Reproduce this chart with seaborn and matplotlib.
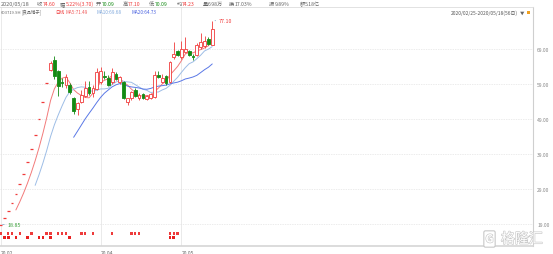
import numpy as np
import pandas as pd
import matplotlib
matplotlib.use("Agg")
import matplotlib.pyplot as plt
import matplotlib.patches as mpatches
import matplotlib.patheffects as pe
from matplotlib.transforms import blended_transform_factory, offset_copy
import seaborn as sns

# ---------------- data ----------------
limit_up_prices = [18.85, 20.74, 22.81, 25.09, 27.60, 30.36, 33.40, 36.74, 40.41,
                   44.45, 48.90, 53.79, 59.17]
open_rest = [63.10, 65.90, 62.60, 59.70, 58.60, 58.70, 54.90, 51.90, 54.00, 55.70,
             58.00, 56.50, 57.60, 59.50, 61.40, 60.60, 59.50, 61.90, 59.50, 59.50,
             53.80, 54.90, 57.40, 54.90, 56.10, 54.70, 54.90, 55.40, 61.50, 59.70,
             61.30, 59.70, 66.60, 68.30, 66.60, 68.20, 68.30, 67.00, 67.40, 69.50,
             69.80, 71.80, 70.09]
high_rest = [65.60, 67.10, 63.00, 60.60, 61.80, 59.30, 55.30, 54.00, 57.20, 60.00,
             59.80, 58.80, 63.50, 63.80, 62.70, 61.50, 63.50, 62.40, 61.20, 59.80,
             55.00, 57.00, 57.80, 56.30, 56.50, 55.90, 56.50, 62.60, 62.60, 62.00,
             61.70, 65.60, 71.00, 68.70, 71.30, 72.30, 68.60, 67.70, 70.80, 73.60,
             72.70, 72.30, 77.10]
low_rest = [62.80, 60.50, 55.50, 58.20, 58.00, 56.20, 50.40, 50.10, 53.60, 55.30,
            55.80, 55.20, 57.20, 59.00, 60.50, 58.30, 59.00, 60.10, 59.10, 54.60,
            53.10, 54.50, 55.40, 54.50, 54.60, 54.40, 54.60, 55.10, 60.60, 59.30,
            58.80, 59.30, 66.20, 66.90, 66.10, 67.80, 67.10, 65.80, 67.00, 69.00,
            69.30, 70.20, 70.09]
close_rest = [65.10, 61.20, 58.50, 59.30, 60.90, 56.80, 51.40, 53.60, 55.90, 58.00,
              56.40, 57.80, 62.30, 62.80, 61.00, 58.70, 62.30, 60.40, 60.90, 54.90,
              54.90, 56.60, 55.70, 55.90, 54.90, 55.50, 56.10, 61.60, 61.00, 60.80,
              59.30, 65.20, 67.50, 67.30, 69.00, 68.90, 67.40, 66.75, 70.20, 70.90,
              71.30, 70.45, 74.60]

opens = limit_up_prices + open_rest
highs = limit_up_prices + high_rest
lows = limit_up_prices + low_rest
closes = limit_up_prices + close_rest

xtick_labels = ["20.02", "20.04", "20.05"]
xtick_index = [0, 26, 47]
ytick_values = [19, 29, 39, 49, 59, 69]

signal_row1 = [0, 2, 3, 5, 8, 12, 13, 15, 16, 17, 21, 22, 24, 29, 34, 35, 36, 44, 45, 46]
signal_row2 = [1, 2, 4, 7, 10, 11, 13, 18, 44, 45]

header_date = "2020/05/18"
header_labels = ["收", "幅", "开", "高", "低", "均", "量", "换", "振", "额"]
header_values = ["74.60", "5.22%(3.70)", "70.09", "77.10", "70.09", "74.23",
                 "6.98万", "17.03%", "9.89%", "5.18亿"]
stock_code = "603719.SH"
stock_name = "[良品铺子]"
period_label = "日线"
ma_windows = [5, 10, 20]
range_label = "2020/02/25-2020/05/18(56日)"
watermark = "格隆汇"

# ---------------- style ----------------
sns.set_theme(style="white")
plt.rcParams['font.family'] = ['Noto Sans CJK SC', 'DejaVu Sans']

W, H = 553, 255
fig = plt.figure(figsize=(W / 100, H / 100), dpi=100)
PX = 3.85          # pixels per trading day
X0 = 0.5           # pixel position of day 0
AX_R = 533
AX_T, AX_B = 8, 247
ax = fig.add_axes([0, 1 - AX_B / H, AX_R / W, (AX_B - AX_T) / H])

ax.set_xlim(-X0 / PX, (AX_R - X0) / PX)
ymin = 69 - (AX_B - 50) / 3.5
ymax = 69 + (50 - AX_T) / 3.5
ax.set_ylim(ymin, ymax)

RED = "#f03a3a"
GREEN = "#138a13"
MA_COLORS = ["#f27a7a", "#9dbde6", "#5a78e6"]

df = pd.DataFrame({"day": np.arange(len(closes)), "open": opens, "high": highs,
                   "low": lows, "close": closes})

# candles
bw = 0.72
for d, o, h, l, c in zip(df.day, df.open, df.high, df.low, df.close):
    if abs(h - l) < 1e-9:
        ax.hlines(c, d - bw / 2, d + bw / 2, color=RED, lw=0.9, zorder=3)
        continue
    up = c >= o
    col = RED if up else GREEN
    top, bot = max(o, c), min(o, c)
    ax.vlines(d, top, h, color=col, lw=0.6, zorder=3)
    ax.vlines(d, l, bot, color=col, lw=0.6, zorder=3)
    ax.add_patch(mpatches.Rectangle((d - bw / 2, bot), bw, max(top - bot, 0.12),
                                    facecolor="white" if up else col,
                                    edgecolor=col, lw=0.6, zorder=4))

# moving averages
for w, col in zip(ma_windows, MA_COLORS):
    ma = df.close.rolling(w).mean()
    sns.lineplot(x=df.day, y=ma, ax=ax, color=col, lw=0.7, zorder=2, legend=False)

# signal dots
trans = blended_transform_factory(ax.transData, ax.transAxes)
y1 = (AX_B - 234.5) / (AX_B - AX_T)
y2 = (AX_B - 238.5) / (AX_B - AX_T)
sns.scatterplot(x=signal_row1, y=[y1] * len(signal_row1), ax=ax, transform=trans,
                marker="s", s=3.2, color="#ee3b3b", edgecolor="none", legend=False, zorder=5)
sns.scatterplot(x=signal_row2, y=[y2] * len(signal_row2), ax=ax, transform=trans,
                marker="s", s=3.6, color="#e82020", edgecolor="none", legend=False, zorder=5)

# high / low annotations
imax = int(np.argmax(highs)); imin = int(np.argmin(lows))
ax.annotate("", xy=(imax, highs[imax]), xytext=(imax + 1.6, highs[imax]),
            arrowprops=dict(arrowstyle="-", color="#8fb0d0", lw=0.6))
ax.text(imax + 1.7, highs[imax], f"{highs[imax]:.2f}", color=RED, fontsize=3.8,
        va="center", ha="left")
ax.annotate("", xy=(imin - 0.2, lows[imin]), xytext=(imin + 1.7, lows[imin]),
            arrowprops=dict(arrowstyle="-", color="#8fb0d0", lw=0.6))
ax.text(imin + 1.9, lows[imin], f"{lows[imin]:.2f}", color="#3aa03a", fontsize=3.8,
        va="center", ha="left")

# axes styling
ax.set_xlabel(""); ax.set_ylabel("")
ax.yaxis.tick_right()
ax.set_yticks(ytick_values)
ax.set_yticklabels([f"{v:.2f}" for v in ytick_values], fontsize=3.6, color="#888888")
ax.set_xticks(xtick_index)
ax.set_xticklabels(xtick_labels, fontsize=3.6, color="#666666")
for lab in ax.get_xticklabels():
    lab.set_ha("left")
    lab.set_transform(offset_copy(lab.get_transform(), fig=fig, x=1.5, y=0, units="dots"))
ax.tick_params(axis="y", length=0, pad=3)
ax.tick_params(axis="x", length=2.5, width=0.5, color="#aaaaaa", pad=0.5, direction="out")
ax.grid(axis="y", color="#e4e4e4", lw=0.5, ls=(0, (2, 1.5)))
ax.grid(axis="x", color="#e6e6e6", lw=0.6, ls="-")
ax.spines["left"].set_visible(False)
ax.spines["top"].set_color("#dddddd"); ax.spines["top"].set_linewidth(0.6)
ax.spines["right"].set_color("#cfcfcf"); ax.spines["right"].set_linewidth(0.8)
ax.spines["bottom"].set_color("#d5d5d5"); ax.spines["bottom"].set_linewidth(1.2)

# ---------------- header texts ----------------
def ftext(xp, yp, s, color="#555555", size=4.0, **kw):
    fig.text(xp / W, 1 - yp / H, s, color=color, fontsize=size, va="center",
             ha=kw.pop("ha", "left"), **kw)

ftext(1, 4.3, header_date, "#666666", 4.0)
hx_lab = [37, 60, 96, 123, 149, 177, 203, 229, 269, 300]
hx_val = [43, 66, 102, 128, 155, 182, 208, 235, 275, 305]
hv_col = [RED, RED, GREEN, RED, GREEN, RED, "#666666", "#666666", "#666666", "#666666"]
for xl, xv, lab, val, c in zip(hx_lab, hx_val, header_labels, header_values, hv_col):
    ftext(xl, 4.3, lab, "#666666", 3.8)
    ftext(xv, 4.3, val, c, 3.7)

ftext(1, 12.5, stock_code, "#666666", 3.0)
ftext(21, 12.5, stock_name, "#666666", 3.1)
ftext(55, 12.5, period_label, RED, 3.3)
ma_last = [df.close.rolling(w).mean().iloc[-1] for w in ma_windows]
for xp, w, v, c in zip([65, 97, 132], ma_windows, ma_last,
                       ["#f05a5a", "#7fa8dc", "#4a62e0"]):
    ftext(xp, 12.5, f"MA{w}:{v:.2f}", c, 3.4)

ftext(518, 13, range_label, "#555555", 3.5, ha="right")
ftext(519.5, 13, "▼", "#666666", 3.2)
fig.patches.append(mpatches.Rectangle((526.5 / W, 1 - 15 / H), 3.5 / W, 3.5 / H,
                                      transform=fig.transFigure, facecolor="#f0a020",
                                      edgecolor="none"))

# watermark
fig.text(501 / W, 1 - 240 / H, watermark, fontsize=10, color="white", va="center",
         ha="left", path_effects=[pe.withStroke(linewidth=0.9, foreground="#c8c8c8")])
fig.text(489.5 / W, 1 - 240 / H, "G", fontsize=8, color="white", va="center",
         ha="center", fontweight="bold",
         path_effects=[pe.withStroke(linewidth=0.9, foreground="#c8c8c8")],
         bbox=dict(boxstyle="round,pad=0.15", fc="white", ec="#c8c8c8", lw=0.8))

fig.savefig("out.png", dpi=100)
